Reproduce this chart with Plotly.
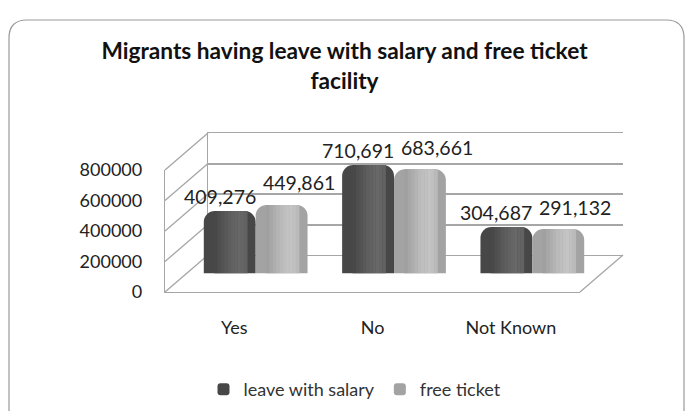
import plotly.graph_objects as go

categories = ["Yes", "No", "Not Known"]
leave_with_salary = [409276, 710691, 304687]
free_ticket = [449861, 683661, 291132]
y_ticks = [0, 200000, 400000, 600000, 800000]
y_max = 800000

W, H = 689, 411
FONT = "Lato, 'Open Sans', sans-serif"
LINE = "#a6a6a6"

# pixel geometry of the pseudo-3D box (front face, depth shift)
FX0, FX1, FYT, FYB = 165, 580, 170, 292
DX, DY = 43, -37

def px(x):
    return x / W

def py(y):
    return 1 - y / H

def dom_x(shift):
    return [px(FX0 + shift * DX), px(FX1 + shift * DX)]

def dom_y(shift):
    return [py(FYB + shift * DY), py(FYT + shift * DY)]

def y_pix(v, shift):
    return FYB + shift * DY - (FYB - FYT) * v / y_max

def shade_stops(stops, k):
    """Colour ramp for cylinder shading: list of k greys interpolated across stops."""
    out = []
    for i in range(k):
        t = i / (k - 1) * (len(stops) - 1)
        j = min(int(t), len(stops) - 2)
        f = t - j
        g = round(stops[j] + (stops[j + 1] - stops[j]) * f)
        out.append(f"rgb({g},{g},{g})")
    return out

fig = go.Figure()

BW = 0.375  # bar width in category units
n = len(categories)
series = [
    ("leave with salary", leave_with_salary, -BW, "#474747", [72, 82, 92, 100, 104, 98], -10, 15),
    ("free ticket", free_ticket, 0.0, "#a3a3a3", [160, 172, 184, 192, 196, 186], 17, 22),
]
NS = 10
for name, vals, off, col, stops, lx, ly in series:
    fig.add_trace(go.Bar(
        x=categories, y=vals, name=name, xaxis="x2", yaxis="y2",
        width=[BW] * n, offset=[off] * n,
        marker=dict(color=col, line=dict(width=0), cornerradius=11),
        cliponaxis=False,
    ))
    ramp = shade_stops(stops, NS)
    lo, hi = 0.2, 0.84
    step = (hi - lo) / NS
    for i, c in enumerate(ramp):
        fig.add_trace(go.Bar(
            x=categories, y=vals, xaxis="x2", yaxis="y2", showlegend=False,
            width=[BW * step * 1.05] * n, offset=[off + BW * (lo + i * step)] * n,
            marker=dict(color=c, line=dict(width=0)), hoverinfo="skip",
        ))
    # value labels above each cylinder
    for i, v in enumerate(vals):
        fig.add_annotation(x=i + off + BW / 2, y=v, xref="x2", yref="y2",
                           text=f"{v:,}", showarrow=False, xshift=lx, yshift=ly,
                           xanchor="center", yanchor="middle",
                           font=dict(family=FONT, size=19.5, color="#222"))

# diagonal side-wall lines joining front and back tick levels
for v in y_ticks:
    fig.add_shape(type="line", xref="paper", yref="paper",
                  x0=px(FX0), y0=py(y_pix(v, 0)), x1=px(FX0 + DX), y1=py(y_pix(v, 1)),
                  line=dict(color=LINE, width=1.3), layer="below")
# right floor edge
fig.add_shape(type="line", xref="paper", yref="paper",
              x0=px(FX1), y0=py(FYB), x1=px(FX1 + DX), y1=py(FYB + DY),
              line=dict(color=LINE, width=1.3), layer="below")

# rounded chart border (decorative frame)
x0, y0, x1, y1, r = 9, 20, 684, 440, 18
path = (f"M {px(x0)},{py(y1)} L {px(x0)},{py(y0 + r)} "
        f"Q {px(x0)},{py(y0)} {px(x0 + r)},{py(y0)} "
        f"L {px(x1 - r)},{py(y0)} Q {px(x1)},{py(y0)} {px(x1)},{py(y0 + r)} "
        f"L {px(x1)},{py(y1)}")
fig.add_shape(type="path", path=path, xref="paper", yref="paper",
              line=dict(color="#9a9a9a", width=1.2), layer="below")

hidden = dict(showgrid=False, showline=False, zeroline=False,
              showticklabels=False, ticks="")

fig.update_layout(
    width=W, height=H,
    margin=dict(l=0, r=0, t=0, b=0, autoexpand=False),
    paper_bgcolor="white", plot_bgcolor="rgba(0,0,0,0)",
    font=dict(family=FONT, color="#222"),
    title=dict(text="Migrants having leave with salary and free ticket<br>facility",
               x=0.5, xanchor="center", xref="container",
               y=1 - 59 / H, yanchor="top", yref="container",
               font=dict(family=FONT, size=22.7, color="#111", weight="bold")),
    barmode="overlay",
    showlegend=True,
    legend=dict(orientation="h", x=355 / W, xanchor="center", xref="container",
                y=1 - 371 / H, yanchor="top", yref="container",
                font=dict(family=FONT, size=18, color="#333"),
                itemwidth=30, traceorder="normal"),
    # back wall (gridlines)
    xaxis=dict(domain=dom_x(1), anchor="y", type="category",
               categoryarray=categories, range=[-0.5, n - 0.5],
               showgrid=False, zeroline=False, showticklabels=False, ticks="",
               showline=True, mirror=True, linecolor=LINE, linewidth=1.3),
    yaxis=dict(domain=dom_y(1), anchor="x", range=[0, y_max], tickvals=y_ticks,
               showgrid=True, gridcolor=LINE, gridwidth=1.5, zeroline=False,
               showticklabels=False, ticks="",
               showline=True, linecolor=LINE, linewidth=1.3),
    # middle (bars)
    xaxis2=dict(domain=dom_x(0.5), anchor="y2", type="category",
                categoryarray=categories, range=[-0.5, n - 0.5], **hidden),
    yaxis2=dict(domain=dom_y(0.5), anchor="x2", range=[0, y_max], **hidden),
    # front (labels and front edges)
    xaxis3=dict(domain=dom_x(0), anchor="y3", type="category",
                categoryarray=categories, range=[-0.5, n - 0.5],
                showgrid=False, zeroline=False, ticks="",
                showline=True, linecolor=LINE, linewidth=1.3,
                tickvals=categories, ticktext=categories,
                tickfont=dict(family=FONT, size=18, color="#222"),
                ticklabelstandoff=19),
    yaxis3=dict(domain=dom_y(0), anchor="x3", range=[0, y_max], tickvals=y_ticks,
                ticktext=[str(v) for v in y_ticks],
                showgrid=False, zeroline=False, ticks="",
                showline=True, linecolor=LINE, linewidth=1.3,
                tickfont=dict(family=FONT, size=18, color="#222"),
                ticklabelstandoff=18),
)
# invisible traces so the back-wall and front axes are drawn
for xa, ya in (("x", "y"), ("x3", "y3")):
    fig.add_trace(go.Scatter(x=categories, y=[None] * n, xaxis=xa, yaxis=ya,
                             showlegend=False, hoverinfo="skip", mode="markers"))

fig.write_html("out.html", config={"displayModeBar": False},
               post_script="document.body.style.margin='0';")
